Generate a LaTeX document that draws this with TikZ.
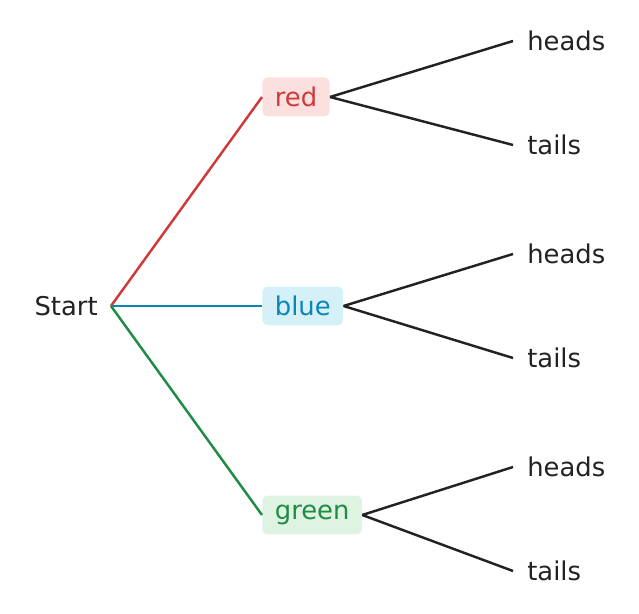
\documentclass[tikz,border=0pt]{standalone}
\usepackage{fontspec}
\setmainfont{DejaVu Sans}
\usetikzlibrary{positioning}
\definecolor{ink}{HTML}{222222}
\definecolor{redC}{HTML}{D0393A}
\definecolor{redF}{HTML}{FCE0DF}
\definecolor{blueC}{HTML}{0A86B6}
\definecolor{blueF}{HTML}{D6F0F7}
\definecolor{greenC}{HTML}{1E8C45}
\definecolor{greenF}{HTML}{DFF3E2}
\begin{document}
\begin{tikzpicture}[x=0.02cm, y=-0.02cm,
  every node/.style={font=\fontsize{14.7}{16}\selectfont, text=ink},
  choice/.style={rectangle, anchor=west, rounded corners=3pt, minimum height=0.78cm, inner xsep=0.25cm},
  leaf/.style={anchor=west, inner xsep=0.28cm},
  edge/.style={line width=1.4pt}]
\useasboundingbox (0,0) rectangle (639,614);
\node[anchor=east, inner xsep=0.26cm] (start) at (111,306) {Start};
\node[choice, fill=redF, text=redC] (red) at (262,97) {red};
\node[choice, fill=blueF, text=blueC] (blue) at (262,306) {blue};
\node[choice, fill=greenF, text=greenC] (green) at (262,515) {green};

\node[leaf] (rh) at (513,41) {heads};
\node[leaf] (rt) at (513,145) {tails};
\node[leaf] (bh) at (513,254) {heads};
\node[leaf] (bt) at (513,358) {tails};
\node[leaf] (gh) at (513,467) {heads};
\node[leaf] (gt) at (513,571) {tails};

\draw[edge, redC] (start.east) -- (red.west);
\draw[edge, blueC] (start.east) -- (blue.west);
\draw[edge, greenC] (start.east) -- (green.west);
\foreach \c/\h/\t in {red/rh/rt, blue/bh/bt, green/gh/gt} {
  \draw[edge, ink] (\c.east) -- (\h.west);
  \draw[edge, ink] (\c.east) -- (\t.west);
}
\end{tikzpicture}
\end{document}
